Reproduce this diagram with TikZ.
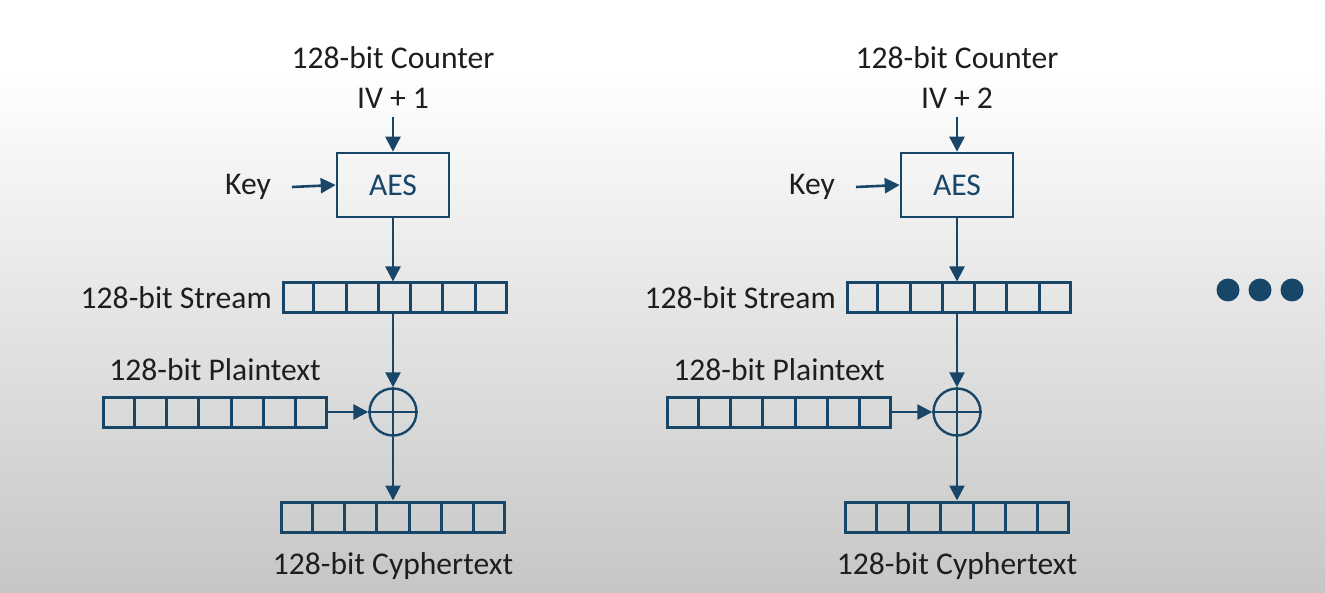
\documentclass[tikz,border=0pt]{standalone}
\usepackage{fontspec}
\setmainfont{Carlito}
\usetikzlibrary{arrows.meta,calc}
\definecolor{bc}{RGB}{24,70,104}
\definecolor{tc}{RGB}{30,30,30}
\definecolor{bgb}{RGB}{198,198,198}
\tikzset{
  lbl/.style={text=tc, font=\fontsize{31.6}{40}\selectfont, inner sep=0pt},
  conn/.style={draw=bc, line width=2.6pt, -{Triangle[length=15pt,width=15pt]}},
  plain/.style={draw=bc, line width=2.4pt},
  aesbox/.style={draw=bc, line width=2.6pt, minimum width=112pt, minimum height=64pt, inner sep=0pt, text=bc, font=\fontsize{31.6}{36}\selectfont},
  cellrow/.style={draw=bc, line width=3pt, minimum width=223pt, minimum height=30pt, inner sep=0pt},
  divider/.style={draw=bc, line width=3pt},
  xorc/.style={circle, draw=bc, line width=2.4pt, minimum size=47pt, inner sep=0pt},
  dot/.style={circle, fill=bc, minimum size=23pt, inner sep=0pt}
}
\begin{document}
\begin{tikzpicture}[x=1pt,y=-1pt]
\useasboundingbox (0,0) rectangle (1325,593);
\fill[white] (0,0) rectangle (1325,70);
\shade[top color=white, bottom color=bgb] (0,70) rectangle (1325,593);
\foreach \i/\ox in {1/0,2/564}{
  \begin{scope}[xshift=\ox]
  \node[lbl, align=center] (cnt\i) at (393,78) {128-bit Counter\\IV + \i};
  \coordinate (cs\i) at (393,117);
  \node[aesbox] (aes\i) at (393,185) {AES};
  \node[lbl] (key\i) at (248,187) {Key};
  \coordinate (ks\i) at (292,187);
  \node[cellrow] (s\i) at (394.5,298) {};
  \node[lbl, anchor=east] (sl\i) at (272,298) {128-bit Stream};
  \node[xorc] (x\i) at (393,412) {};
  \node[cellrow] (p\i) at (215,412) {};
  \node[lbl] (pl\i) at (215,370) {128-bit Plaintext};
  \node[cellrow] (c\i) at (393,517) {};
  \node[lbl] (cl\i) at (393,566) {128-bit Cyphertext};
  \foreach \r in {s\i,p\i,c\i}{
    \foreach \k in {1,...,6}{
      \draw[divider] ($(\r.north west)!\k/7!(\r.north east)$) -- ($(\r.south west)!\k/7!(\r.south east)$);
    }
  }
  \draw[conn] (cs\i) -- (aes\i.north);
  \draw[conn] (ks\i) -- (aes\i.west);
  \draw[conn] (aes\i.south) -- (aes\i.south |- s\i.north);
  \draw[conn] (aes\i.south |- s\i.south) -- (x\i.north);
  \draw[conn] (p\i.east) -- (x\i.west);
  \draw[conn] (x\i.south) -- (x\i.south |- c\i.north);
  \draw[plain] (x\i.north) -- (x\i.south);
  \draw[plain] (x\i.west) -- (x\i.east);
  \end{scope}
}
\node[dot] (d1) at (1228,290) {};
\node[dot] (d2) at (1260,290) {};
\node[dot] (d3) at (1292,290) {};
\end{tikzpicture}
\end{document}
